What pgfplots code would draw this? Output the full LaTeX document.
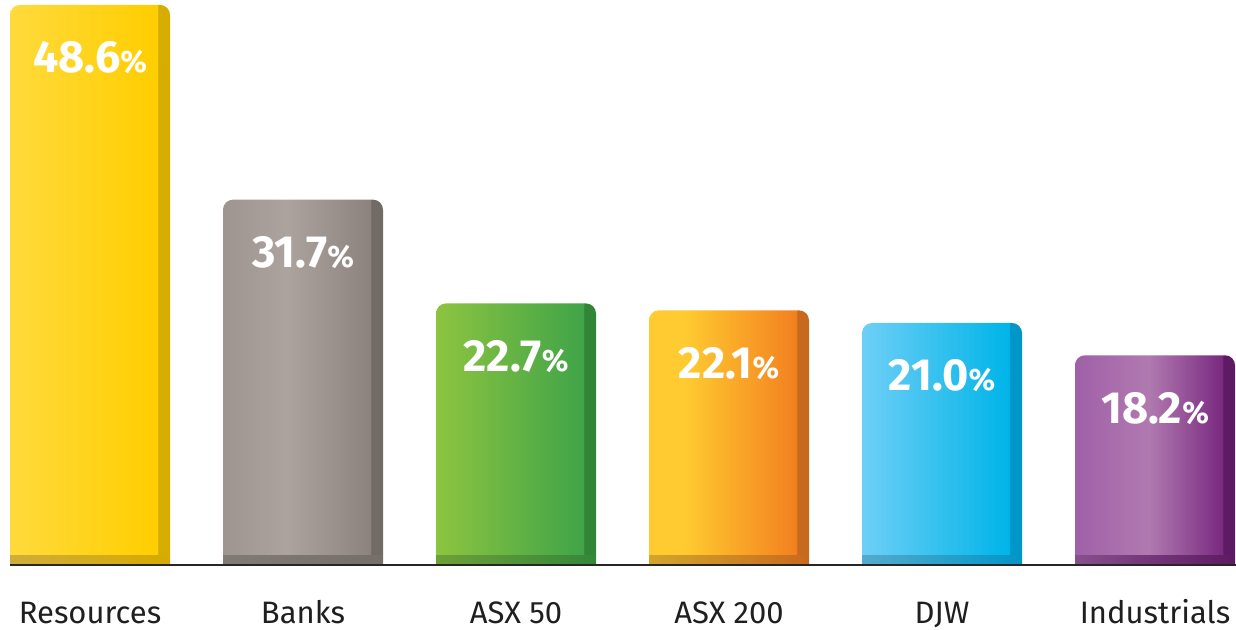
\documentclass[border=0pt]{standalone}
\usepackage{pgfplots}
\pgfplotsset{compat=1.18}
\usepackage{fontspec}
\setmainfont{Fira Sans}

\definecolor{resL}{RGB}{255,218,60}
\definecolor{resR}{RGB}{255,206,0}
\definecolor{resD}{RGB}{214,172,0}
\definecolor{resB1}{RGB}{208,172,60}
\definecolor{resB2}{RGB}{214,170,0}

\definecolor{bnkL}{RGB}{158,149,144}
\definecolor{bnkM}{RGB}{172,163,158}
\definecolor{bnkR}{RGB}{140,131,126}
\definecolor{bnkD}{RGB}{114,106,100}
\definecolor{bnkB1}{RGB}{130,122,117}
\definecolor{bnkB2}{RGB}{118,110,104}

\definecolor{a50L}{RGB}{141,196,64}
\definecolor{a50R}{RGB}{64,164,72}
\definecolor{a50D}{RGB}{50,132,55}
\definecolor{a50B1}{RGB}{110,160,55}
\definecolor{a50B2}{RGB}{52,135,58}

\definecolor{a2L}{RGB}{255,203,48}
\definecolor{a2R}{RGB}{243,128,32}
\definecolor{a2D}{RGB}{200,106,30}
\definecolor{a2B1}{RGB}{210,165,45}
\definecolor{a2B2}{RGB}{200,106,30}

\definecolor{djL}{RGB}{110,207,246}
\definecolor{djR}{RGB}{0,180,232}
\definecolor{djD}{RGB}{0,150,200}
\definecolor{djB1}{RGB}{85,170,205}
\definecolor{djB2}{RGB}{0,150,200}

\definecolor{inL}{RGB}{160,96,168}
\definecolor{inM}{RGB}{176,122,176}
\definecolor{inR}{RGB}{122,42,128}
\definecolor{inD}{RGB}{94,26,98}
\definecolor{inB1}{RGB}{135,80,140}
\definecolor{inB2}{RGB}{94,26,98}

\pgfdeclarehorizontalshading{resshade}{100bp}{color(0bp)=(resL); color(25bp)=(resL); color(71bp)=(resR); color(71.3bp)=(resD); color(100bp)=(resD)}
\pgfdeclarehorizontalshading{bnkshade}{100bp}{color(0bp)=(bnkL); color(25bp)=(bnkL); color(45bp)=(bnkM); color(71bp)=(bnkR); color(71.3bp)=(bnkD); color(100bp)=(bnkD)}
\pgfdeclarehorizontalshading{a50shade}{100bp}{color(0bp)=(a50L); color(25bp)=(a50L); color(71bp)=(a50R); color(71.3bp)=(a50D); color(100bp)=(a50D)}
\pgfdeclarehorizontalshading{a2shade}{100bp}{color(0bp)=(a2L); color(25bp)=(a2L); color(36bp)=(a2L); color(71bp)=(a2R); color(71.3bp)=(a2D); color(100bp)=(a2D)}
\pgfdeclarehorizontalshading{djshade}{100bp}{color(0bp)=(djL); color(25bp)=(djL); color(71bp)=(djR); color(71.3bp)=(djD); color(100bp)=(djD)}
\pgfdeclarehorizontalshading{inshade}{100bp}{color(0bp)=(inL); color(25bp)=(inL); color(48bp)=(inM); color(71bp)=(inR); color(71.3bp)=(inD); color(100bp)=(inD)}

\begin{document}
\begin{tikzpicture}
\useasboundingbox (-5pt,-32.5pt) rectangle (613pt,282.5pt);
\begin{axis}[
  at={(0,0)}, anchor=south west,
  scale only axis,
  width=613pt, height=282.5pt,
  xmin=-0.37559, xmax=5.38028,
  ymin=0, ymax=49.03,
  enlargelimits=false,
  axis x line*=bottom,
  axis y line=none,
  axis line style={-, line width=1pt, black!85},
  axis on top,
  clip=false,
  xtick={0,1,2,3,4,5},
  xticklabels={Resources,Banks,ASX 50,ASX 200,DJW,Industrials},
  major tick length=0pt,
  ytick=\empty,
  xticklabel style={anchor=base, yshift=-29.5pt, font=\fontsize{15.5}{15.5}\selectfont, text=black!88},
  /pgf/number format/assume math mode=true,
  mybar/.style={ybar, bar width=80pt, bar shift=0pt, draw=none},
  mainbar/.style={mybar, shade, rounded corners=5pt,
    nodes near coords={\pgfmathprintnumber[fixed,fixed zerofill,precision=1]{\pgfplotspointmeta}{\fontsize{15.5}{15.5}\selectfont\%}},
    every node near coord/.append style={anchor=center, yshift=-26.5pt, text=white, font=\bfseries\fontsize{22.5}{22.5}\selectfont}},
  basebar/.style={mybar},
]
\addplot[mainbar, shading=resshade] coordinates {(0,48.6)};
\addplot[mainbar, shading=bnkshade] coordinates {(1,31.7)};
\addplot[mainbar, shading=a50shade] coordinates {(2,22.7)};
\addplot[mainbar, shading=a2shade] coordinates {(3,22.1)};
\addplot[mainbar, shading=djshade] coordinates {(4,21.0)};
\addplot[mainbar, shading=inshade] coordinates {(5,18.2)};
\addplot[basebar, left color=resB1, right color=resB2] coordinates {(0,0.85)};
\addplot[basebar, left color=bnkB1, right color=bnkB2] coordinates {(1,0.85)};
\addplot[basebar, left color=a50B1, right color=a50B2] coordinates {(2,0.85)};
\addplot[basebar, left color=a2B1, right color=a2B2] coordinates {(3,0.85)};
\addplot[basebar, left color=djB1, right color=djB2] coordinates {(4,0.85)};
\addplot[basebar, left color=inB1, right color=inB2] coordinates {(5,0.85)};
\end{axis}
\end{tikzpicture}
\end{document}
